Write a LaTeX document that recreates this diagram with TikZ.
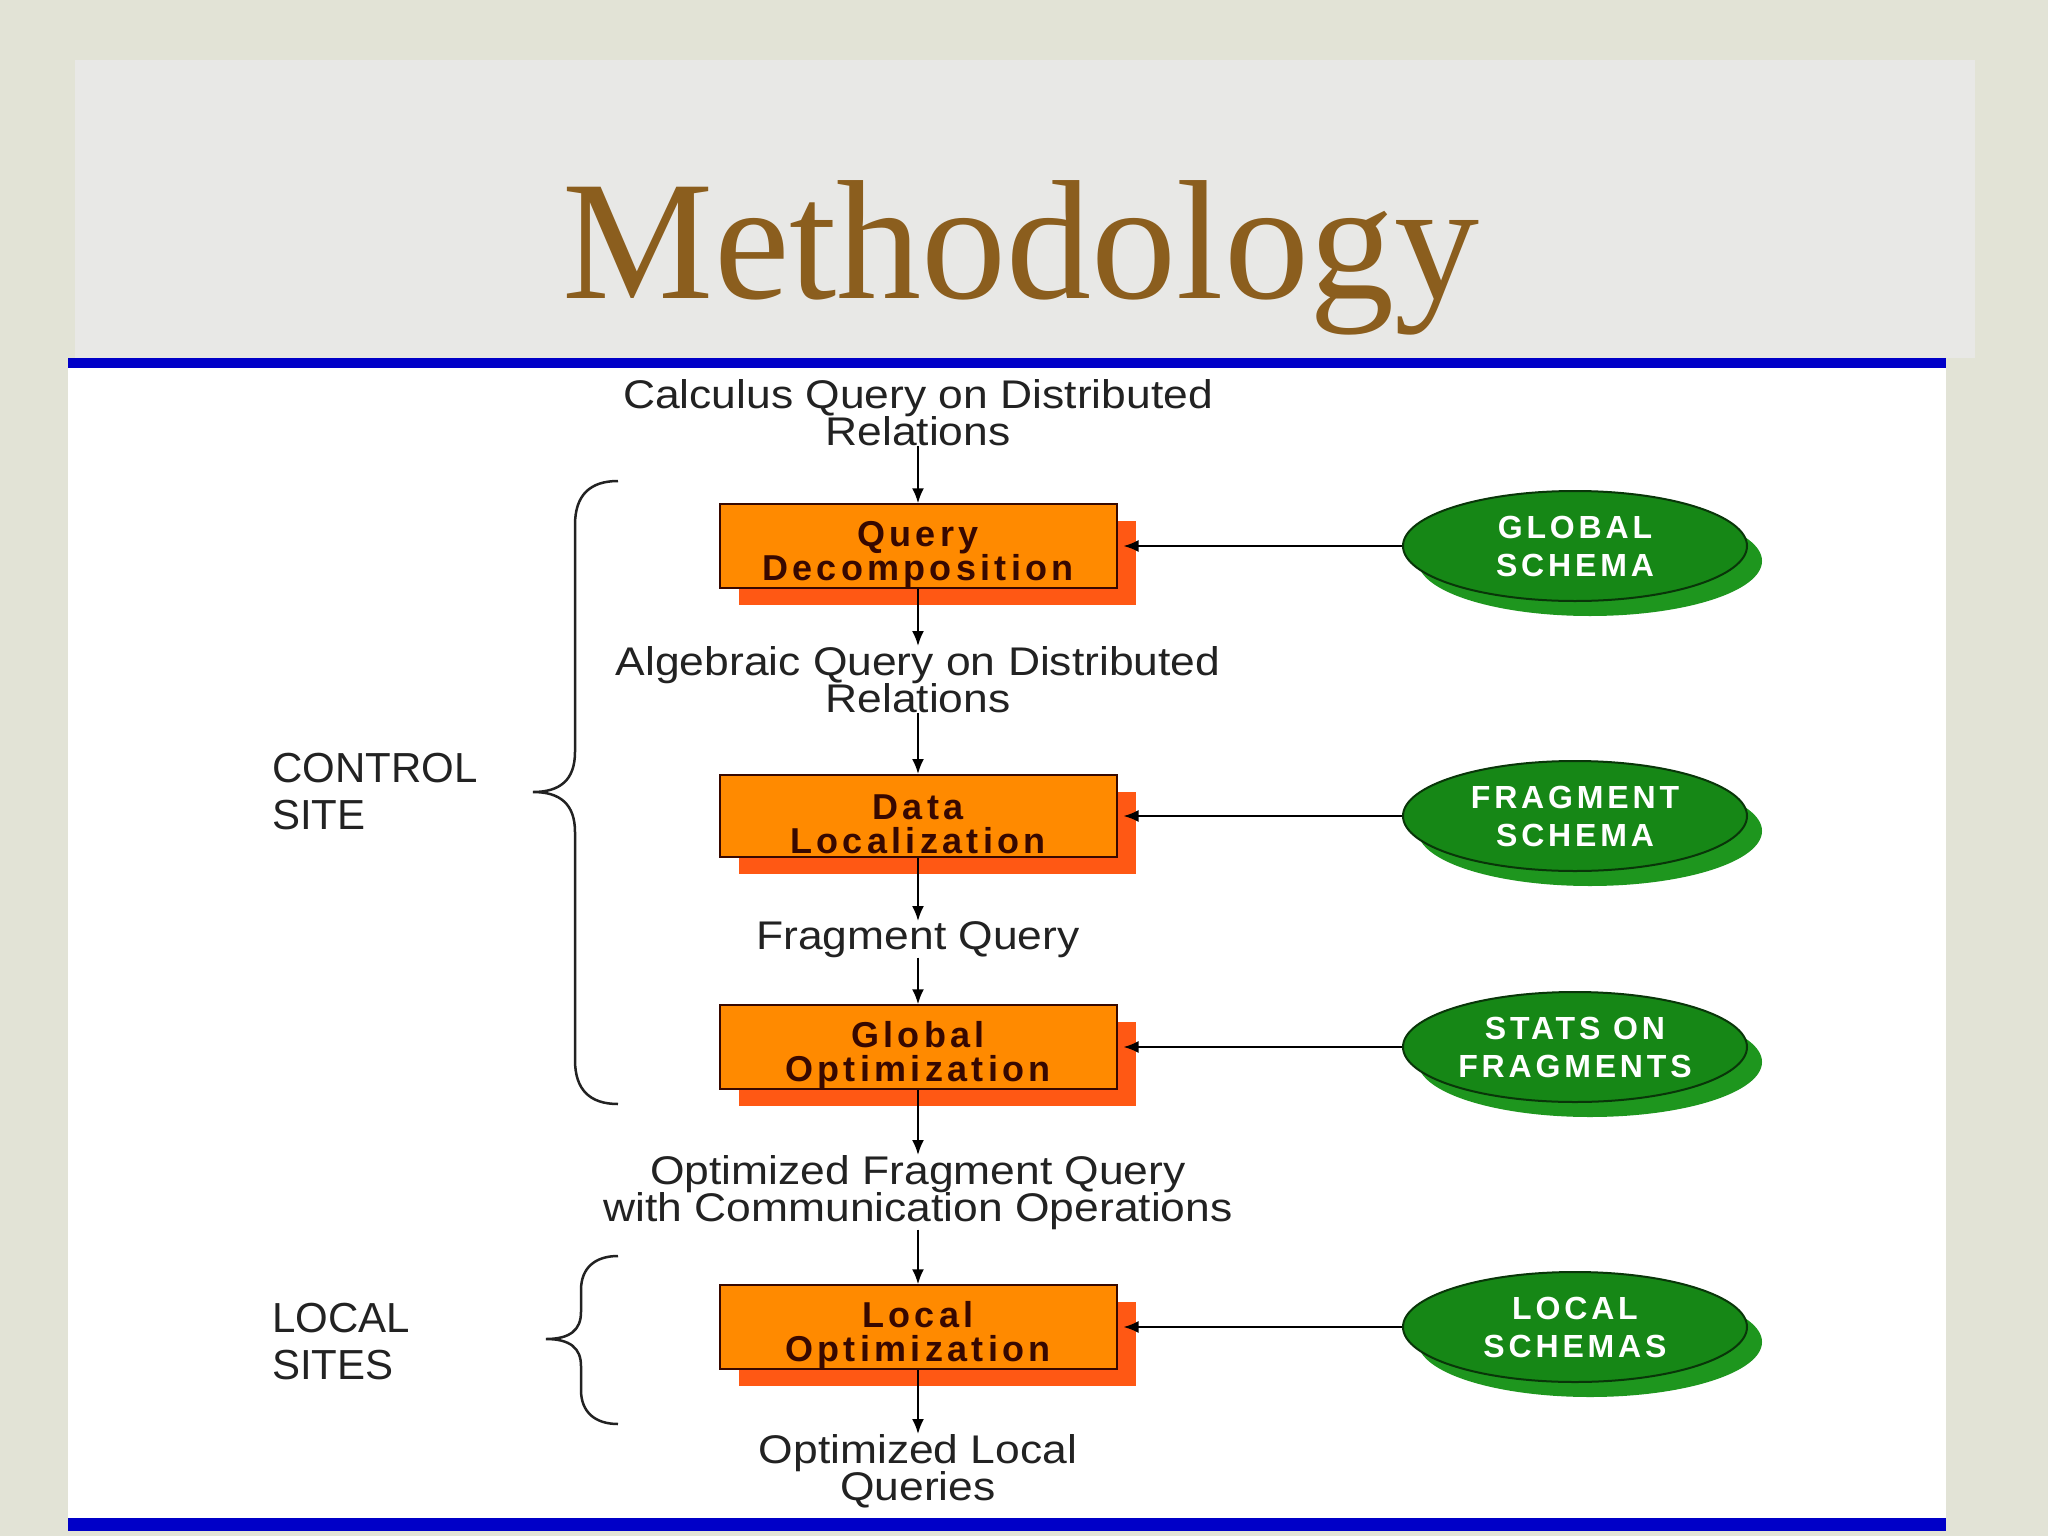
\documentclass[tikz,border=0pt]{standalone}
\usepackage{fontspec}
\setmainfont{Liberation Serif}
\setsansfont{Liberation Sans}
\newfontfamily\spacedfont[LetterSpace=12]{Liberation Sans}
\newfontfamily\flowfont[FakeStretch=1.11]{Liberation Sans}
\usetikzlibrary{shapes.geometric, arrows.meta, positioning, shadows}

\definecolor{slidebg}{RGB}{226,227,214}
\definecolor{titlebg}{RGB}{232,232,230}
\definecolor{rulecol}{RGB}{0,0,200}
\definecolor{titlecol}{RGB}{139,94,30}
\definecolor{boxfill}{RGB}{255,138,0}
\definecolor{boxshadow}{RGB}{255,88,20}
\definecolor{boxtext}{RGB}{55,8,0}
\definecolor{schemafill}{RGB}{22,135,22}
\definecolor{schemashadow}{RGB}{30,150,30}
\definecolor{textcol}{RGB}{34,34,34}

\newcommand{\boxstrut}{\rule{0pt}{42pt}}

\begin{document}
\lineskiplimit=-\maxdimen
\begin{tikzpicture}[
    x=1pt, y=-1pt,
    stepbox/.style={rectangle, draw=boxtext, line width=2pt, fill=boxfill, minimum width=397pt, minimum height=82pt, inner sep=0pt, align=center, text=boxtext, font=\spacedfont\bfseries\fontsize{36}{34}\selectfont, drop shadow={shadow xshift=19pt, shadow yshift=-17pt, fill=boxshadow, opacity=1}},
    schema/.style={ellipse, draw=black!60!schemafill, line width=2pt, fill=schemafill, minimum width=344pt, minimum height=110pt, inner sep=0pt, align=center, text=white, font=\spacedfont\bfseries\fontsize{32}{38}\selectfont, drop shadow={shadow xshift=15pt, shadow yshift=-15pt, fill=schemashadow, opacity=1}},
    flowtext/.style={inner sep=0pt, align=center, text=textcol, font=\flowfont\fontsize{40}{37}\selectfont},
    sitelabel/.style={inner sep=0pt, align=left, text=textcol, font=\sffamily\fontsize{42}{47}\selectfont},
    arrow/.style={-{Latex[length=15pt,width=12pt]}, line width=2pt, black},
    sitebrace/.style={line width=2.5pt, draw=textcol}
]
\useasboundingbox (0,0) rectangle (2048,1536);

% Slide background
\fill[slidebg] (0,0) rectangle (2048,1536);
\fill[titlebg] (75,60) rectangle (1975,358);
\fill[white] (68,368) rectangle (1946,1518);
\fill[rulecol] (68,358) rectangle (1946,368);
\fill[rulecol] (68,1518) rectangle (1946,1531);

% Title
\node[anchor=base, text=titlecol, font=\fontsize{170}{170}\selectfont, inner sep=0pt] (title) at (1021,298) {Methodology};

% Processing steps
\node[flowtext, anchor=north] (calc) at (918,379) {Calculus Query on Distributed\\Relations};
\node[stepbox] (decomp) at (918,546) {\boxstrut Query\\Decomposition};
\node[flowtext, anchor=north] (alg) at (918,646) {Algebraic Query on Distributed\\Relations};
\node[stepbox] (dataloc) at (918,816) {\boxstrut Data\\Localization};
\node[flowtext, anchor=north] (frag) at (918,921) {Fragment Query};
\node[stepbox] (globopt) at (918,1047) {\boxstrut Global\\Optimization};
\node[flowtext, anchor=north] (optfrag) at (918,1155) {Optimized Fragment Query\\with Communication Operations};
\node[stepbox] (locopt) at (918,1327) {\boxstrut Local\\Optimization};
\node[flowtext, anchor=north] (optloc) at (918,1434) {Optimized Local\\Queries};

% Schemas
\node[schema] (gschema) at (1575,546) {GLOBAL\\SCHEMA};
\node[schema] (fschema) at (1575,816) {FRAGMENT\\SCHEMA};
\node[schema] (stats) at (1575,1047) {STATS ON\\FRAGMENTS};
\node[schema] (lschema) at (1575,1327) {LOCAL\\SCHEMAS};

% Sites
\node[sitelabel, anchor=north west] (control) at (272,753) {CONTROL\\SITE};
\node[sitelabel, anchor=north west] (sites) at (272,1303) {LOCAL\\SITES};

\draw[sitebrace] (618,481) .. controls (590,481) and (575,495) .. (575,525) -- (575,752)
    .. controls (575,780) and (560,792) .. (533,792) .. controls (560,792) and (575,804) .. (575,832)
    -- (575,1060) .. controls (575,1090) and (590,1104) .. (618,1104);
\draw[sitebrace] (618,1256) .. controls (595,1256) and (581,1268) .. (581,1290) -- (581,1312)
    .. controls (581,1330) and (570,1339) .. (546,1339) .. controls (570,1339) and (581,1348) .. (581,1366)
    -- (581,1390) .. controls (581,1412) and (595,1424) .. (618,1424);

% Connections
\draw[arrow] (calc.south) -- (decomp.north);
\draw[arrow] (decomp.south) -- (alg.north);
\draw[arrow] (alg.south) -- (dataloc.north);
\draw[arrow] (dataloc.south) -- (frag.north);
\draw[arrow] (frag.south) -- (globopt.north);
\draw[arrow] (globopt.south) -- (optfrag.north);
\draw[arrow] (optfrag.south) -- (locopt.north);
\draw[arrow] (locopt.south) -- (optloc.north);

\draw[arrow] (gschema.west) -- ([xshift=6pt]decomp.east);
\draw[arrow] (fschema.west) -- ([xshift=6pt]dataloc.east);
\draw[arrow] (stats.west) -- ([xshift=6pt]globopt.east);
\draw[arrow] (lschema.west) -- ([xshift=6pt]locopt.east);

\end{tikzpicture}
\end{document}
